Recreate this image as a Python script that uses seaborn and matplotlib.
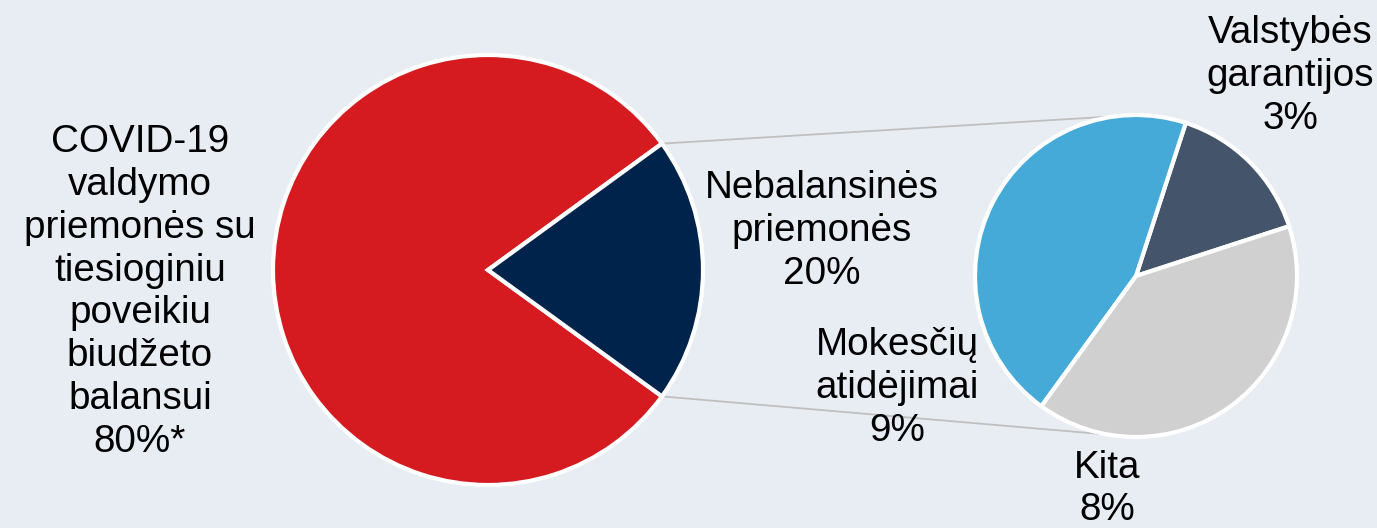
import numpy as np
import matplotlib
matplotlib.use("Agg")
import matplotlib.pyplot as plt
import seaborn as sns

# Duomenys
main_labels = ['COVID-19\nvaldymo\npriemonės su\ntiesioginiu\npoveikiu\nbiudžeto\nbalansui\n80%*',
               'Nebalansinės\npriemonės\n20%']
main_values = [80, 20]
main_colors = ['#D51B20', '#00234B']

sub_labels = ['Valstybės\ngarantijos\n3%', 'Mokesčių\natidėjimai\n9%', 'Kita\n8%']
sub_values = [3, 9, 8]
sub_colors = ['#44546A', '#45AAD8', '#D0D0D0']

sns.set_theme(style="white")
plt.rcParams['font.family'] = ['Liberation Sans', 'DejaVu Sans']

bg = '#E8EDF4'
W, H = 1377, 528
fig = plt.figure(figsize=(W / 100, H / 100), dpi=100, facecolor=bg)
ax = fig.add_axes([0, 0, 1, 1])
ax.set_facecolor(bg)

# pagrindinis skritulys
c1, r1 = (488, H - 270), 215
half = 360 * main_values[1] / sum(main_values) / 2
ax.pie(main_values, colors=main_colors, startangle=half, center=c1, radius=r1,
       wedgeprops=dict(edgecolor='white', linewidth=3), frame=True)

# antrinis skritulys
c2, r2 = (1136, H - 276), 161
ax.pie(sub_values, colors=sub_colors, startangle=18, center=c2, radius=r2,
       wedgeprops=dict(edgecolor='white', linewidth=3), frame=True)

ax.set_xlim(0, W)
ax.set_ylim(0, H)
ax.set_aspect('equal')
ax.axis('off')

# jungiamosios linijos
for sgn in (1, -1):
    a = np.deg2rad(sgn * half)
    x0 = c1[0] + r1 * np.cos(a)
    y0 = c1[1] + r1 * np.sin(a)
    ax.plot([x0, c2[0]], [y0, c2[1] + sgn * r2], color='#BFBFBF', lw=1.3, zorder=0)

fs = 27.8
kw = dict(ha='center', va='center', fontsize=fs, color='black', linespacing=1.24)
ax.text(140, H - 292, main_labels[0], **kw)
ax.text(822, H - 231, main_labels[1], **kw)
ax.text(1290, H - 76, sub_labels[0], **kw)
ax.text(897, H - 388, sub_labels[1], **kw)
ax.text(1107, H - 489, sub_labels[2], **kw)

fig.savefig('out.png', dpi=100, facecolor=bg)
